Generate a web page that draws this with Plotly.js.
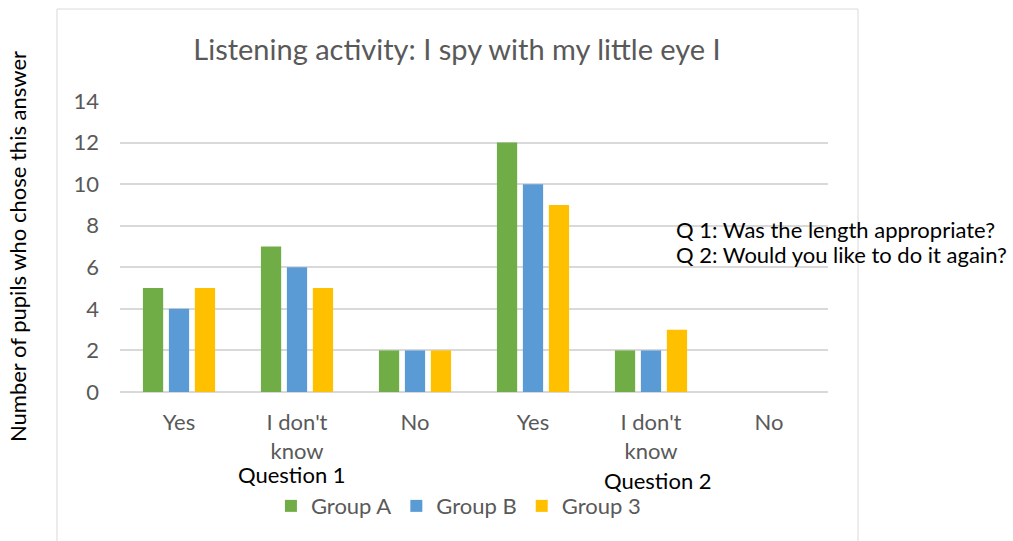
<!DOCTYPE html>
<html>
<head>
<meta charset="utf-8">
<script src="https://cdn.plot.ly/plotly-3.0.1.min.js"></script>
<style>html,body{margin:0;padding:0;background:#fff;}</style>
</head>
<body>
<div id="chart" style="width:1013px;height:541px;"></div>
<script>
// Data
const categoryIds = ["Q1 Yes", "Q1 I don't know", "Q1 No", "Q2 Yes", "Q2 I don't know", "Q2 No"];
const tickLabels = ["Yes", "I don't<br>know", "No", "Yes", "I don't<br>know", "No"];
const groupA = [5, 7, 2, 12, 2, 0];
const groupB = [4, 6, 2, 10, 2, 0];
const group3 = [5, 5, 2, 9, 3, 0];
const seriesNames = ["Group A", "Group B", "Group 3"];
const seriesColors = ["#70ad47", "#5b9bd5", "#ffc000"];
const questionLabels = ["Question 1", "Question 2"];
const questionNotes = ["Q 1: Was the length appropriate?", "Q 2: Would you like to do it again?"];

const FONT = "Lato, 'Open Sans', sans-serif";
const GRAY = "#595959";
const FS = 22;

const traces = [groupA, groupB, group3].map((vals, i) => ({
  type: "bar",
  name: seriesNames[i],
  x: categoryIds,
  y: vals,
  marker: {color: seriesColors[i]},
  hoverinfo: "x+y+name"
}));

const layout = {
  width: 1013,
  height: 541,
  autosize: false,
  paper_bgcolor: "#ffffff",
  plot_bgcolor: "#ffffff",
  margin: {l: 120, r: 185, t: 101, b: 149, pad: 0},
  font: {family: FONT, color: GRAY, size: FS},
  title: {
    text: "Listening activity: I spy with my little eye I",
    font: {family: FONT, size: 29, color: GRAY},
    x: 0.476, xref: "paper", xanchor: "center",
    y: 0.907, yref: "container", yanchor: "middle"
  },
  barmode: "group",
  bargap: 0.34,
  bargroupgap: 0.22,
  xaxis: {
    type: "category",
    tickmode: "array",
    tickvals: categoryIds,
    ticktext: tickLabels,
    tickfont: {family: FONT, size: FS, color: GRAY},
    showgrid: false,
    showline: false,
    zeroline: false,
    ticks: "",
    ticklabelstandoff: 15,
    automargin: false,
    fixedrange: true
  },
  yaxis: {
    range: [0, 14],
    dtick: 2,
    tick0: 0,
    showgrid: true,
    gridcolor: "#d9d9d9",
    gridwidth: 1.5,
    zeroline: true,
    zerolinecolor: "#d9d9d9",
    zerolinewidth: 1.5,
    showline: false,
    ticks: "",
    ticklabelstandoff: 20,
    tickfont: {family: FONT, size: FS, color: GRAY},
    automargin: false,
    fixedrange: true,
    title: {
      text: "Number of pupils who chose this answer",
      font: {family: FONT, size: FS, color: "#000000"},
      standoff: 40
    }
  },
  legend: {
    orientation: "h",
    x: 0.478, xanchor: "center",
    y: -0.392, yanchor: "middle",
    font: {family: FONT, size: FS, color: GRAY},
    itemsizing: "constant",
    traceorder: "normal",
    bgcolor: "rgba(0,0,0,0)"
  },
  shapes: [{
    type: "rect", xref: "paper", yref: "paper",
    x0: -0.089, x1: 1.0424, y0: -0.55, y1: 1.316,
    line: {color: "#d9d9d9", width: 1},
    fillcolor: "rgba(0,0,0,0)",
    layer: "below"
  }],
  annotations: [
    {text: questionLabels[0], xref: "paper", yref: "paper", x: 0.243, y: -0.282,
     showarrow: false, xanchor: "center", yanchor: "middle",
     font: {family: FONT, size: FS, color: "#000000"}},
    {text: questionLabels[1], xref: "paper", yref: "paper", x: 0.76, y: -0.305,
     showarrow: false, xanchor: "center", yanchor: "middle",
     font: {family: FONT, size: FS, color: "#000000"}},
    {text: questionNotes[0], xref: "paper", yref: "paper", x: 0.783, y: 0.56,
     showarrow: false, xanchor: "left", yanchor: "middle",
     font: {family: FONT, size: FS, color: "#000000"}},
    {text: questionNotes[1], xref: "paper", yref: "paper", x: 0.783, y: 0.474,
     showarrow: false, xanchor: "left", yanchor: "middle",
     font: {family: FONT, size: FS, color: "#000000"}}
  ]
};

Plotly.newPlot("chart", traces, layout, {displayModeBar: false, staticPlot: false});
</script>
</body>
</html>
